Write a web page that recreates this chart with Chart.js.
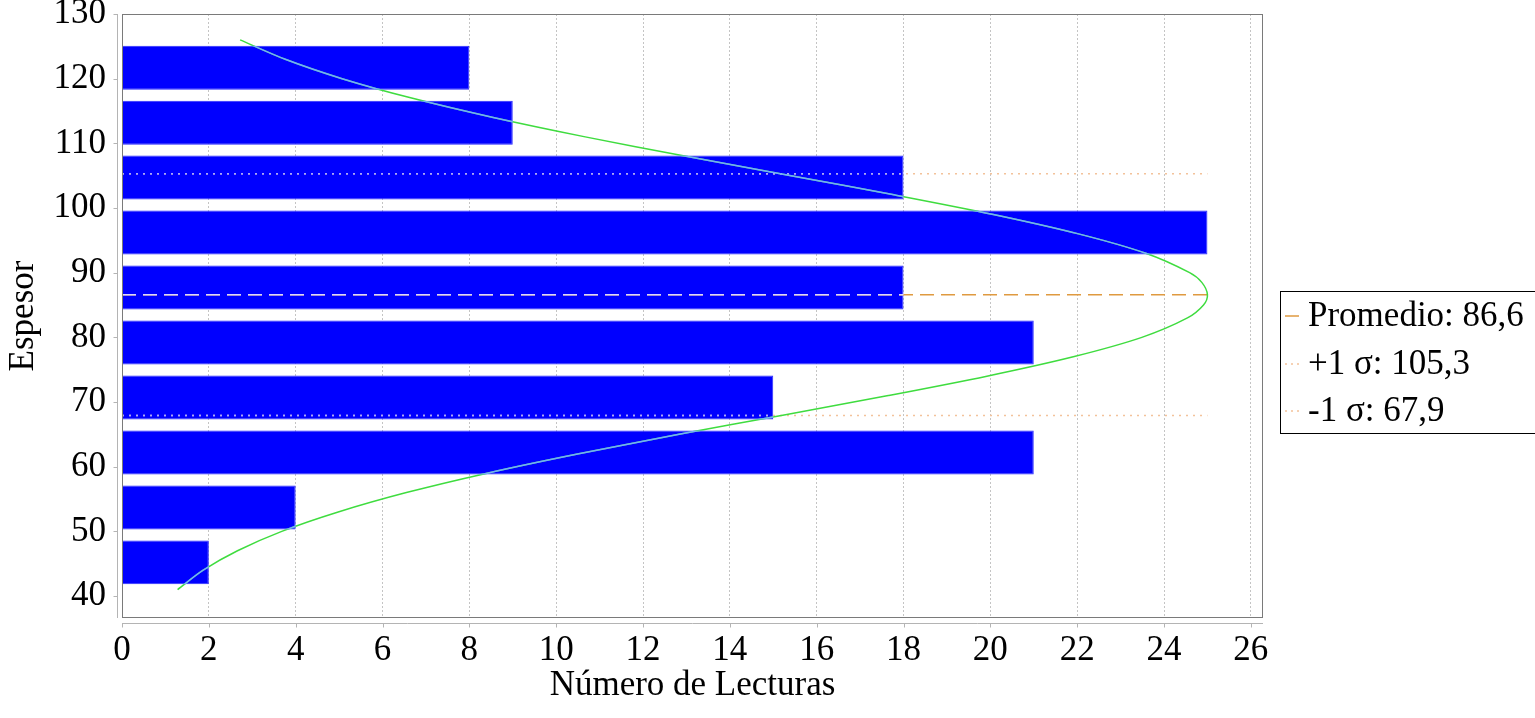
<!DOCTYPE html>
<html>
<head>
<meta charset="utf-8">
<title>Espesor vs Número de Lecturas</title>
<script src="https://cdn.jsdelivr.net/npm/chart.js@4/dist/chart.umd.min.js"></script>
<style>
  html, body { margin: 0; padding: 0; background: #ffffff; }
  #wrap { width: 1535px; height: 718px; position: relative; }
</style>
</head>
<body>
<div id="wrap"><canvas id="c" width="1535" height="718"></canvas></div>
<script>
// Histogram bins (centre of each thickness class) and reading counts
const espesorCentros = [45.2, 53.7, 62.2, 70.7, 79.2, 87.7, 96.2, 104.7, 113.2, 121.7];
const lecturas       = [2, 4, 21, 15, 21, 18, 25, 18, 9, 8];

// Reference lines: mean and ±1 sigma
const promedio   = 86.6;
const sigmaMas   = 105.3;
const sigmaMenos = 67.9;
const lineaDesde = 0;
const lineaHasta = 25;

// Fitted normal curve, sampled along the thickness axis
const curvaEspesor  = [41, 44, 47, 50, 53, 56, 59, 62, 65, 68, 71, 74, 77, 80, 83, 85, 86.6,
                       88.5, 90, 93, 96, 99, 102, 105, 108, 111, 114, 117, 120, 123, 126];
const curvaLecturas = [1.28, 1.87, 2.66, 3.68, 4.98, 6.55, 8.41, 10.52, 12.83, 15.25, 17.65, 19.92, 21.91, 23.49, 24.54, 24.91, 25.0,
                       24.87, 24.59, 23.58, 22.03, 20.07, 17.81, 15.41, 12.99, 10.67, 8.55, 6.67, 5.07, 3.76, 2.72];

const fmt = v => v.toFixed(1).replace('.', ',');
const etiquetas = ['Promedio: ' + fmt(promedio), '+1 \u03c3: ' + fmt(sigmaMas), '-1 \u03c3: ' + fmt(sigmaMenos)];

const FONT = 'Liberation Serif';
Chart.defaults.font.family = FONT;
Chart.defaults.color = '#000000';

const COL_PROM = '#df9a40';
const COL_SIG  = '#f3c29a';
const COL_CURVA = '#3fdc3f';

const barras = espesorCentros.map((y, i) => ({ x: lecturas[i], y }));
const hLine = v => [{ x: lineaDesde, y: v }, { x: lineaHasta, y: v }];
const curva = curvaEspesor.map((y, i) => ({ x: curvaLecturas[i], y }));

// Paler re-stroke of the lines where they cross the bars, plus axes, frame and legend
const decor = {
  id: 'decor',
  afterDatasetsDraw(chart) {
    const { ctx, scales: { x: xs, y: ys } } = chart;
    const barMeta = chart.getDatasetMeta(0);
    ctx.save();
    ctx.beginPath();
    barMeta.data.forEach(b => {
      const top = b.y - b.height / 2;
      ctx.rect(Math.min(b.base, b.x), top, Math.abs(b.x - b.base), b.height);
    });
    ctx.clip();
    const paleLine = (v, color, dash) => {
      ctx.beginPath();
      ctx.setLineDash(dash);
      ctx.strokeStyle = color;
      ctx.lineWidth = 1.5;
      const py = ys.getPixelForValue(v);
      ctx.moveTo(xs.getPixelForValue(lineaDesde), py);
      ctx.lineTo(xs.getPixelForValue(lineaHasta), py);
      ctx.stroke();
    };
    paleLine(promedio, '#dcd6ff', [14, 7]);
    paleLine(sigmaMas, '#a8a8ff', [2, 5]);
    paleLine(sigmaMenos, '#a8a8ff', [2, 5]);
    // curve
    const pts = chart.getDatasetMeta(4).data;
    ctx.setLineDash([]);
    ctx.strokeStyle = '#74aaff';
    ctx.lineWidth = 1.5;
    ctx.beginPath();
    pts.forEach((p, i) => {
      if (i === 0) { ctx.moveTo(p.x, p.y); return; }
      const q = pts[i - 1];
      ctx.bezierCurveTo(q.cp2x, q.cp2y, p.cp1x, p.cp1y, p.x, p.y);
    });
    ctx.stroke();
    ctx.restore();
  },
  afterDraw(chart) {
    const { ctx, chartArea: a, scales: { x: xs, y: ys } } = chart;
    ctx.save();
    // plot frame
    ctx.strokeStyle = '#7a7a7a';
    ctx.lineWidth = 1;
    ctx.setLineDash([]);
    ctx.strokeRect(Math.round(a.left) + 0.5, Math.round(a.top) + 0.5,
                   Math.round(a.right - a.left) - 1, Math.round(a.bottom - a.top) - 1);
    // offset axis lines with tick marks
    ctx.strokeStyle = '#b4b4b4';
    const ax = Math.round(a.left) - 5 + 0.5;
    ctx.beginPath();
    ctx.moveTo(ax, a.top); ctx.lineTo(ax, a.bottom);
    ys.ticks.forEach(t => {
      const py = Math.round(ys.getPixelForValue(t.value)) + 0.5;
      ctx.moveTo(ax, py); ctx.lineTo(ax - 4, py);
    });
    const ay = Math.round(a.bottom) + 5 + 0.5;
    ctx.moveTo(a.left, ay); ctx.lineTo(a.right, ay);
    xs.ticks.forEach(t => {
      const px = Math.round(xs.getPixelForValue(t.value)) + 0.5;
      ctx.moveTo(px, ay); ctx.lineTo(px, ay + 4);
    });
    ctx.stroke();

    // legend box
    const lx = 1280.5, ly = 291.5;
    ctx.fillStyle = '#ffffff';
    ctx.fillRect(lx, ly, 300, 142);
    ctx.strokeStyle = '#000000';
    ctx.strokeRect(lx, ly, 300, 142);
    const rows = [
      { y: 316, color: COL_PROM, dash: [] },
      { y: 364, color: COL_SIG, dash: [2, 4] },
      { y: 411, color: COL_SIG, dash: [2, 4] }
    ];
    ctx.font = '35px "' + FONT + '"';
    ctx.textBaseline = 'middle';
    ctx.textAlign = 'left';
    rows.forEach((r, i) => {
      ctx.beginPath();
      ctx.setLineDash(r.dash);
      ctx.strokeStyle = r.color;
      ctx.lineWidth = 1.5;
      ctx.moveTo(1285, r.y); ctx.lineTo(1299, r.y);
      ctx.stroke();
      ctx.fillStyle = '#000000';
      ctx.fillText(etiquetas[i], 1308, r.y + 1);
    });
    ctx.restore();
  }
};

new Chart(document.getElementById('c'), {
  type: 'bar',
  data: {
    datasets: [
      {
        type: 'bar',
        label: 'Lecturas',
        data: barras,
        backgroundColor: '#0000ff',
        borderColor: '#2a2aff',
        borderWidth: 1,
        barPercentage: 0.8,
        categoryPercentage: 1.0,
        order: 10
      },
      {
        type: 'line', label: etiquetas[0], data: hLine(promedio),
        borderColor: COL_PROM, borderWidth: 1.5, borderDash: [14, 7],
        pointRadius: 0, fill: false, tension: 0, order: 1
      },
      {
        type: 'line', label: etiquetas[1], data: hLine(sigmaMas),
        borderColor: COL_SIG, borderWidth: 1.5, borderDash: [2, 5],
        pointRadius: 0, fill: false, tension: 0, order: 1
      },
      {
        type: 'line', label: etiquetas[2], data: hLine(sigmaMenos),
        borderColor: COL_SIG, borderWidth: 1.5, borderDash: [2, 5],
        pointRadius: 0, fill: false, tension: 0, order: 1
      },
      {
        type: 'line', label: 'Normal', data: curva,
        borderColor: COL_CURVA, borderWidth: 1.5,
        pointRadius: 0, fill: false, tension: 0.3, order: 0
      }
    ]
  },
  options: {
    indexAxis: 'y',
    responsive: false,
    animation: false,
    events: [],
    layout: { padding: { top: 14, right: 272, left: 0, bottom: 0 } },
    plugins: { legend: { display: false }, tooltip: { enabled: false } },
    scales: {
      x: {
        type: 'linear',
        position: 'bottom',
        min: 0,
        max: 26.28,
        offset: false,
        ticks: { stepSize: 2, includeBounds: false, padding: 12, font: { size: 35 }, color: '#000', maxRotation: 0 },
        grid: { display: true, color: '#c4c4c4', lineWidth: 1, drawTicks: false },
        border: { display: false, dash: [2, 2] },
        title: { display: true, text: 'Número de Lecturas', font: { size: 35 }, color: '#000', padding: { top: 0, bottom: 11 } },
        afterFit(s) { s.height = 100; s.paddingLeft = 0; s.paddingRight = 0; }
      },
      y: {
        type: 'linear',
        position: 'left',
        min: 36.6,
        max: 130,
        offset: false,
        ticks: { stepSize: 10, includeBounds: false, padding: 16, font: { size: 35 }, color: '#000' },
        grid: { display: false, drawTicks: false },
        border: { display: false },
        title: { display: true, text: 'Espesor', font: { size: 35 }, color: '#000', padding: { top: 3, bottom: 0 } },
        afterFit(s) { s.width = 122; s.paddingTop = 0; s.paddingBottom = 0; }
      }
    }
  },
  plugins: [decor]
});
</script>
</body>
</html>
